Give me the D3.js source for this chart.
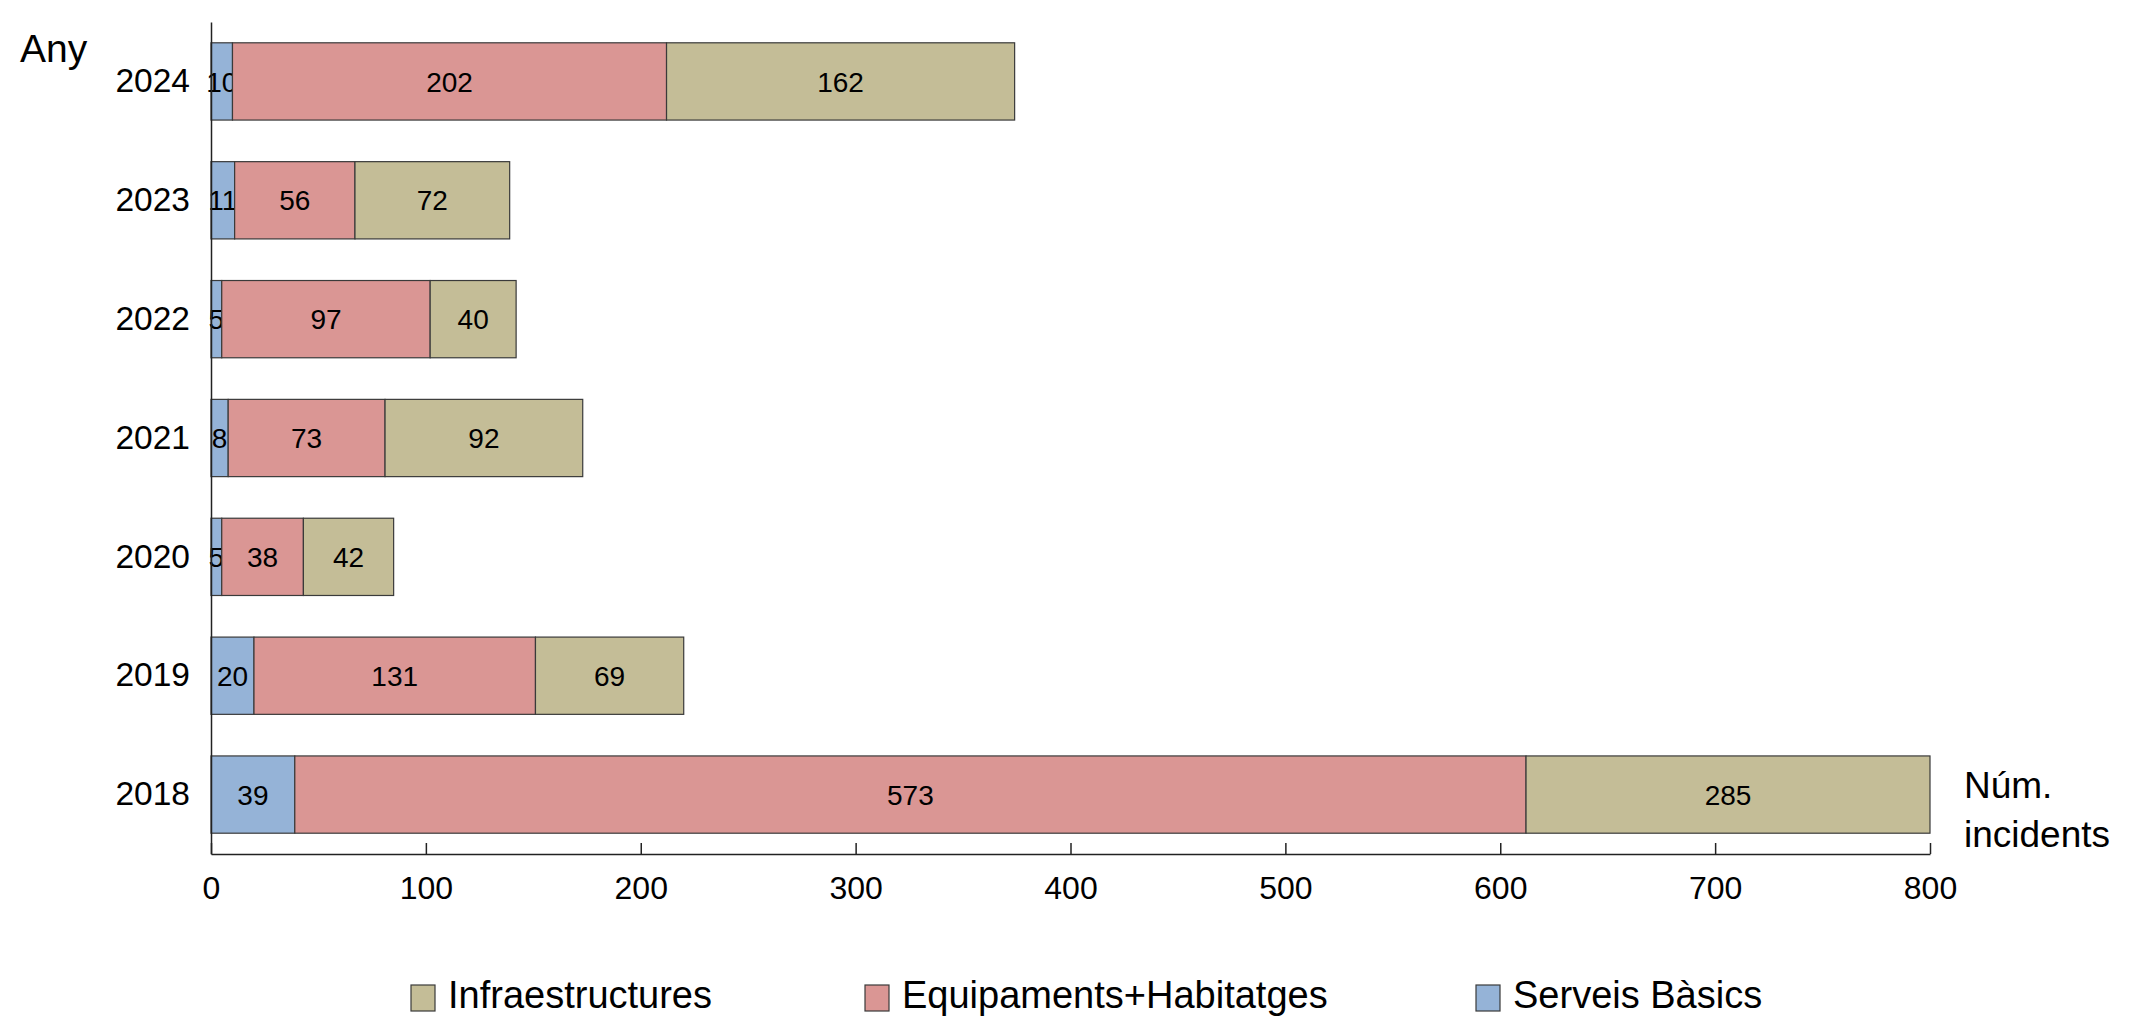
<!DOCTYPE html>
<html><head><meta charset="utf-8">
<script src="https://cdn.jsdelivr.net/npm/d3@7"></script>
<style>html,body{margin:0;padding:0;background:#fff;overflow:hidden}</style>
</head><body>
<svg id="c" width="2129" height="1018"></svg>
<script>
const years = ["2018","2019","2020","2021","2022","2023","2024"];
const serveisBasics = [39,20,5,8,5,11,10];
const equipaments = [573,131,38,73,97,56,202];
const infraestructures = [285,69,42,92,40,72,162];
const seriesNames = ["Serveis Bàsics","Equipaments+Habitatges","Infraestructures"];
const legendOrder = ["Infraestructures","Equipaments+Habitatges","Serveis Bàsics"];
const xTicks = [0,100,200,300,400,500,600,700,800];
const colors = {"Serveis Bàsics":"#95B3D7","Equipaments+Habitatges":"#DA9694","Infraestructures":"#C4BD97"};

const FONT = "'Liberation Sans', Arial, sans-serif";
const svg = d3.select("#c");
const x = d3.scaleLinear().domain([0,800]).range([211,1930]).clamp(true);
const y = d3.scaleBand().domain(years).range([854,22]).paddingInner(0.35).paddingOuter(0.175);

const table = years.map((yr,i)=>({year:yr,"Serveis Bàsics":serveisBasics[i],"Equipaments+Habitatges":equipaments[i],"Infraestructures":infraestructures[i]}));
const stack = d3.stack().keys(seriesNames)(table);

const g = svg.append("g");
stack.forEach(layer=>{
  const key = layer.key;
  layer.forEach(d=>{
    const x0 = x(d[0]), x1 = x(d[1]);
    const yy = y(d.data.year);
    g.append("rect").attr("x",x0).attr("y",yy).attr("width",Math.max(0,x1-x0)).attr("height",y.bandwidth())
      .attr("fill",colors[key]).attr("stroke","#3a3a3a").attr("stroke-width",1.2);
    g.append("text").attr("x",(x0+x1)/2).attr("y",yy+y.bandwidth()/2).attr("dy","0.36em")
      .attr("text-anchor","middle").attr("font-family",FONT).attr("font-size",28).attr("fill","#000")
      .text(d.data[key]);
  });
});

// axes
const xAxis = d3.axisBottom(x).tickValues(xTicks).tickSizeInner(-11).tickSizeOuter(0).tickPadding(22);
const gx = svg.append("g").attr("transform","translate(0,854)").call(xAxis);
gx.select(".domain").attr("stroke","#222").attr("stroke-width",1.5);
gx.selectAll(".tick line").attr("stroke","#222").attr("stroke-width",1.5);
gx.selectAll("text").attr("font-family",FONT).attr("font-size",32).attr("fill","#000");

const yAxis = d3.axisLeft(y).tickSize(0).tickPadding(21);
const gy = svg.append("g").attr("transform","translate(211,0)").call(yAxis);
gy.select(".domain").attr("stroke","#222").attr("stroke-width",1.5);
gy.selectAll("text").attr("font-family",FONT).attr("font-size",33.5).attr("fill","#000");

svg.append("text").attr("x",20).attr("y",62).attr("font-family",FONT).attr("font-size",39).text("Any");
const t = svg.append("text").attr("x",1964).attr("font-family",FONT).attr("font-size",37);
t.append("tspan").attr("x",1964).attr("y",798).text("Núm.");
t.append("tspan").attr("x",1964).attr("y",847).text("incidents");

// legend
const legendX = [411,865,1476];
const lg = svg.append("g");
legendOrder.forEach((k,i)=>{
  lg.append("rect").attr("x",legendX[i]).attr("y",985).attr("width",24).attr("height",26)
    .attr("fill",colors[k]).attr("stroke","#3a3a3a").attr("stroke-width",1.2);
  lg.append("text").attr("x",legendX[i]+37).attr("y",1008).attr("font-family",FONT).attr("font-size",38).text(k);
});
</script>
</body></html>
